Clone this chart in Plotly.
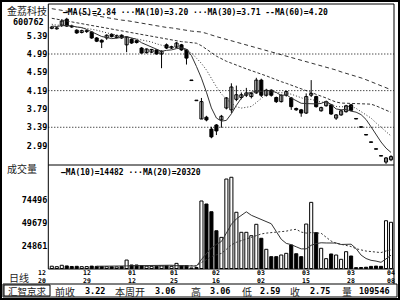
import plotly.graph_objects as go

# ---------------- data ----------------
opens = [5.55, 5.54, 5.62, 5.75, 5.60, 5.51, 5.46, 5.48, 5.47, 5.34,
         5.29, 5.34, 5.42, 5.35, 5.40, 5.19, 5.31, 5.28, 5.12, 5.02,
         5.03, 5.08, 4.99, 5.19, 5.12, 5.14, 5.19, 5.08, 4.41, 3.97,
         3.57, 3.61, 3.35, 3.44, 3.55, 3.81, 3.77, 4.00, 4.04, 4.09,
         4.06, 4.14, 4.42, 4.09, 4.20, 4.04, 3.95, 4.09, 4.03, 3.80,
         3.77, 3.70, 4.09, 4.06, 3.75, 3.86, 3.88, 3.59, 3.66, 3.73,
         3.88, 3.57, 3.39, 3.22, 3.06, 2.91, 2.76, 2.63, 2.68]
highs = [5.60, 5.58, 5.75, 5.78, 5.63, 5.53, 5.52, 5.52, 5.49, 5.36,
         5.31, 5.42, 5.44, 5.41, 5.42, 5.38, 5.33, 5.30, 5.14, 5.11,
         5.10, 5.09, 5.07, 5.22, 5.17, 5.25, 5.21, 5.10, 4.41, 3.97,
         4.03, 3.64, 3.40, 3.46, 3.66, 4.05, 4.35, 4.30, 4.15, 4.25,
         4.16, 4.47, 4.45, 4.23, 4.22, 4.06, 4.11, 4.19, 4.05, 3.82,
         3.79, 4.13, 4.42, 4.08, 3.84, 3.97, 3.90, 3.68, 3.77, 3.88,
         3.90, 3.57, 3.39, 3.22, 3.06, 2.91, 2.76, 2.74, 2.78]
lows = [5.53, 5.52, 5.58, 5.58, 5.56, 5.43, 5.44, 5.45, 5.32, 5.25,
        5.12, 5.30, 5.35, 5.33, 5.32, 5.03, 5.21, 5.22, 5.00, 5.00,
        5.01, 4.98, 4.68, 5.10, 5.10, 5.12, 5.06, 4.76, 4.41, 3.97,
        3.57, 3.52, 3.15, 3.22, 3.38, 3.78, 3.70, 3.96, 4.00, 4.05,
        4.02, 4.12, 4.05, 4.06, 4.06, 3.92, 3.93, 4.06, 3.77, 3.75,
        3.62, 3.68, 4.05, 3.82, 3.73, 3.84, 3.66, 3.55, 3.64, 3.71,
        3.74, 3.57, 3.39, 3.22, 3.06, 2.91, 2.76, 2.59, 2.65]
closes = [5.58, 5.56, 5.71, 5.60, 5.58, 5.45, 5.50, 5.50, 5.34, 5.27,
          5.25, 5.40, 5.37, 5.39, 5.34, 5.36, 5.23, 5.24, 5.01, 5.10,
          5.09, 4.99, 5.05, 5.12, 5.15, 5.23, 5.08, 4.90, 4.41, 3.97,
          3.95, 3.55, 3.18, 3.31, 3.63, 4.03, 4.27, 4.10, 4.10, 4.14,
          4.13, 4.42, 4.09, 4.20, 4.09, 3.95, 4.09, 4.17, 3.84, 3.77,
          3.70, 4.06, 4.13, 3.84, 3.82, 3.95, 3.68, 3.66, 3.75, 3.86,
          3.76, 3.57, 3.39, 3.22, 3.06, 2.91, 2.76, 2.72, 2.75]
volumes = [2500, 2000, 3500, 2800, 2200, 2400, 2000, 2100, 2600, 2300,
           2200, 2000, 1900, 1800, 2100, 9200, 3800, 3800, 3200, 2600,
           2400, 2500, 2800, 3000, 2400, 5600, 3000, 3200, 600, 1000,
           73500, 70200, 61800, 41100, 33900, 97400, 99300, 61200, 39400, 39400,
           35700, 48100, 32900, 20900, 12900, 12900, 14700, 16500, 25600, 16080,
           12900, 48400, 72000, 39000, 22000, 10700, 15800, 14700, 10000, 18300,
           13600, 900, 1100, 1374, 2300, 2600, 2346, 52000, 50300]

# moving-average values for the bars whose window
# reaches back before the first visible day
ma5_head = [5.60, 5.59, 5.61, 5.61]
ma10_head = [5.64, 5.62, 5.62, 5.61, 5.60, 5.58, 5.56, 5.55, 5.53]
ma30_head = [5.77, 5.75, 5.73, 5.71, 5.69, 5.67, 5.65, 5.63, 5.61, 5.59,
             5.57, 5.55, 5.53, 5.51, 5.49, 5.47, 5.45, 5.43, 5.41, 5.39,
             5.37, 5.35, 5.33, 5.31, 5.30, 5.28, 5.26, 5.25, 5.24]
ma60_head = [5.98, 5.96, 5.95, 5.93, 5.91, 5.89, 5.88, 5.86, 5.84, 5.82,
             5.80, 5.79, 5.77, 5.75, 5.73, 5.72, 5.70, 5.68, 5.66, 5.64,
             5.62, 5.61, 5.59, 5.57, 5.56, 5.54, 5.52, 5.51, 5.49, 5.48,
             5.47, 5.44, 5.40, 5.37, 5.34, 5.31, 5.28, 5.25, 5.22, 5.19,
             5.16, 5.13, 5.10, 5.07, 5.04, 5.01, 4.98, 4.95, 4.92, 4.89,
             4.85, 4.82, 4.79, 4.76, 4.73, 4.70, 4.67, 4.64, 4.60]

date_labels = ["12/20", "12/29", "01/12", "01/25", "02/16", "03/02", "03/15", "03/28", "04/08"]
date_pos = [-2, 7, 16, 24.5, 33, 42, 51, 60, 68]
price_ticks = [5.39, 4.99, 4.59, 4.19, 3.79, 3.39, 2.99]
price_grid = [4.99, 4.19, 3.39]
vol_ticks = [74496, 49679, 24861]
price_range = [2.566, 6.082]
vol_range = [-544, 112660]
x_range = [-0.7, 68.6]

ma_legend = "—MA(5)=2.84 ···MA(10)=3.20 ···MA(30)=3.71 --MA(60)=4.20"
vol_legend = "—MA(10)=14482 ···MA(20)=20320"
status_items = [("前收", 53, "cjk"), ("3.22", 107, "num"), ("本周开", 113, "cjk"),
                ("3.06", 177, "num"), ("高", 189, "cjk"), ("3.06", 232, "num"),
                ("低", 240, "cjk"), ("2.59", 282, "num"), ("收", 288, "cjk"),
                ("2.75", 332, "num"), ("量", 340, "cjk"), ("109546", 392, "num")]

# ---------------- helpers ----------------
W, H = 400, 300
X_L, X_R = 48.3, 394
PR_TOP, PR_BOT = 4, 165
VO_TOP, VO_BOT = 165, 269


def fx(x):
    return x / W


def fy(y):
    return 1 - y / H


def sma(vals, n, head=None):
    out = []
    for i in range(len(vals)):
        if i + 1 < n:
            out.append(head[i] if head is not None and i < len(head) else None)
        else:
            out.append(sum(vals[i + 1 - n:i + 1]) / n)
    return out


N = len(closes)
idx = list(range(N))
up = [c > o for o, c in zip(opens, closes)]

fig = go.Figure()

# wicks
wx, wy = [], []
for i in idx:
    wx += [i, i, None]
    wy += [lows[i], highs[i], None]
fig.add_trace(go.Scatter(x=wx, y=wy, mode="lines", line=dict(color="black", width=1),
                         hoverinfo="skip", showlegend=False))

# candle bodies
body_base = [min(o, c) for o, c in zip(opens, closes)]
body_h = [max(abs(c - o), 0.012) for o, c in zip(opens, closes)]
fig.add_trace(go.Bar(x=idx, y=body_h, base=body_base, width=0.62,
                     marker=dict(color=["white" if u else "black" for u in up],
                                 line=dict(color="black", width=1)),
                     showlegend=False))

# price moving averages
ma5 = sma(closes, 5, ma5_head)
ma10 = sma(closes, 10, ma10_head)
ma30 = sma(closes, 30, ma30_head)
ma60 = sma(closes, 60, ma60_head)
for ser, dash in [(ma60, "4px,3px"), (ma30, "3px,2px"), (ma10, "1px,2px"), (ma5, "solid")]:
    fig.add_trace(go.Scatter(x=idx, y=ser, mode="lines",
                             line=dict(color="#333333", width=1, dash=dash),
                             hoverinfo="skip", showlegend=False))

# volume bars
fig.add_trace(go.Bar(x=idx, y=volumes, width=0.62, yaxis="y2",
                     marker=dict(color=["white" if u else "black" for u in up],
                                 line=dict(color="black", width=1)),
                     showlegend=False))
vma10 = sma(volumes, 10)
vma20 = sma(volumes, 20)
for ser, dash in [(vma20, "2px,2px"), (vma10, "solid")]:
    fig.add_trace(go.Scatter(x=idx, y=ser, mode="lines", yaxis="y2",
                             line=dict(color="#333333", width=1, dash=dash),
                             hoverinfo="skip", showlegend=False))

num_font = dict(family="DejaVu Sans Mono", size=8.5, color="black")
cjk_font = dict(family="Noto Sans CJK SC", size=10, color="#222222")

fig.update_layout(
    width=W, height=H, margin=dict(l=0, r=0, t=0, b=0),
    paper_bgcolor="white", plot_bgcolor="white",
    barmode="overlay", showlegend=False,
    xaxis=dict(domain=[fx(X_L), fx(X_R)], range=x_range, showticklabels=False,
               showgrid=False, zeroline=False, showline=False, ticks=""),
    yaxis=dict(domain=[fy(PR_BOT), fy(PR_TOP)], range=price_range,
               tickvals=price_ticks, ticktext=["<b>%.2f</b>" % t for t in price_ticks],
               tickfont=num_font, showgrid=False, zeroline=False, ticks="",
               showline=False),
    yaxis2=dict(domain=[fy(VO_BOT), fy(VO_TOP)], range=vol_range,
                tickvals=vol_ticks, ticktext=["<b>%d</b>" % t for t in vol_ticks],
                tickfont=num_font, showgrid=False, zeroline=False, ticks="",
                showline=False, anchor="x"),
)

shapes = []
for g in price_grid:
    shapes.append(dict(type="line", xref="paper", yref="y", x0=fx(X_L), x1=fx(X_R), y0=g, y1=g,
                       line=dict(color="black", width=1, dash="1px,2px")))
frame = dict(color="black", width=1)
shapes += [
    dict(type="rect", xref="paper", yref="paper", x0=fx(1), x1=fx(399), y0=fy(1), y1=fy(299),
         line=dict(color="black", width=2)),
    dict(type="line", xref="paper", yref="paper", x0=fx(X_L), x1=fx(X_R), y0=fy(PR_TOP), y1=fy(PR_TOP), line=frame),
    dict(type="line", xref="paper", yref="paper", x0=fx(X_L), x1=fx(X_L), y0=fy(PR_TOP), y1=fy(VO_BOT), line=frame),
    dict(type="line", xref="paper", yref="paper", x0=fx(X_R), x1=fx(X_R), y0=fy(PR_TOP), y1=fy(284), line=frame),
    dict(type="line", xref="paper", yref="paper", x0=fx(X_L), x1=fx(X_R), y0=fy(PR_BOT), y1=fy(PR_BOT), line=frame),
    dict(type="line", xref="paper", yref="paper", x0=fx(X_L), x1=fx(X_R), y0=fy(VO_BOT), y1=fy(VO_BOT), line=frame),
    dict(type="rect", xref="paper", yref="paper", x0=fx(3), x1=fx(397), y0=fy(284), y1=fy(297), line=frame),
    dict(type="rect", xref="paper", yref="paper", x0=fx(4), x1=fx(50), y0=fy(285), y1=fy(296), line=frame),
]
fig.update_layout(shapes=shapes)

ann = []


def add_text(x, y, text, font, xanchor="left"):
    ann.append(dict(xref="paper", yref="paper", x=fx(x), y=fy(y), text=text, showarrow=False,
                    font=font, xanchor=xanchor, yanchor="middle"))


add_text(5, 10.5, "金荔科技", dict(family="Noto Sans CJK SC", size=10, color="#222222"))
add_text(46, 22, "<b>600762</b>", dict(family="DejaVu Sans Mono", size=8.5, color="black"), "right")
add_text(61, 12.5, "<b>" + ma_legend + "</b>", dict(family="DejaVu Sans Mono", size=8, color="black"))
add_text(5, 168, "成交量", dict(family="Noto Sans CJK SC", size=10, color="#222222"))
add_text(59, 172, "<b>" + vol_legend + "</b>", dict(family="DejaVu Sans Mono", size=8, color="black"))
add_text(7, 277.5, "日线", dict(family="Noto Sans CJK SC", size=10, color="#222222"))
add_text(6, 291, "汇智京求", dict(family="Noto Sans CJK SC", size=9.5, color="#222222"))
for txt, xp, kind in status_items:
    if kind == "cjk":
        add_text(xp, 291, txt, cjk_font)
    else:
        add_text(xp, 291, "<b>" + txt + "</b>", num_font, "right")

# date labels: placed on the x scale (converted to page position so that
# the first one, left of the first bar, is still drawn)
small = dict(family="DejaVu Sans Mono", size=6.5, color="black")
for lab, pos in zip(date_labels, date_pos):
    xp = X_L + (pos - x_range[0]) / (x_range[1] - x_range[0]) * (X_R - X_L)
    m, d = lab.split("/")
    add_text(xp, 276.8, "<b>" + m + "<br>" + d + "</b>", small, "center")
fig.update_layout(annotations=ann)

fig.write_html("out.html")
